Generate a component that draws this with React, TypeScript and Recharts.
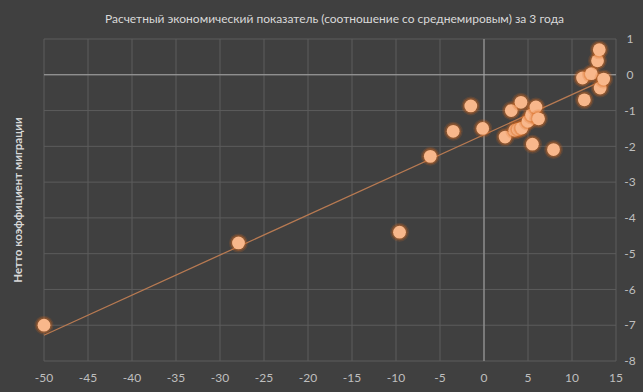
import { ScatterChart, Scatter, XAxis, YAxis, CartesianGrid, ReferenceLine } from 'recharts'

// economic indicator vs. net migration, one entry per country
const economicIndex = [
  -50, -27.9, -9.6, -6.1, -3.5, -1.5, -0.15, 2.4, 3.1, 3.5, 3.9, 4.2, 4.3, 5.0, 5.4, 5.5,
  5.9, 6.2, 7.9, 11.2, 11.4, 12.2, 12.9, 13.1, 13.2, 13.6,
]
const netMigration = [
  -7.0, -4.7, -4.4, -2.28, -1.58, -0.87, -1.5, -1.74, -1.0, -1.55, -1.52, -0.77, -1.49, -1.3,
  -1.12, -1.94, -0.9, -1.23, -2.09, -0.09, -0.7, 0.03, 0.39, 0.7, -0.37, -0.12,
]
// linear trend endpoints
const trendX = [-50, 13.6]
const trendY = [-7.28, -0.15]

const xTicks = [-50, -45, -40, -35, -30, -25, -20, -15, -10, -5, 0, 5, 10, 15]
const yTicks = [-8, -7, -6, -5, -4, -3, -2, -1, 0, 1]

const points = economicIndex.map((x, i) => ({ x, y: netMigration[i] }))
const trend = trendX.map((x, i) => ({ x, y: trendY[i] }))

const BG = '#404040'
const GRID = '#5c5c5c'
const TEXT = '#bfbfbf'
const FONT = 'Lato, "Liberation Sans", sans-serif'

function Dot(props: any) {
  const { cx, cy } = props
  if (cx == null || cy == null) return <g />
  return (
    <g>
      <circle cx={cx} cy={cy} r={9.5} fill="#d8691f" opacity={0.18} />
      <circle cx={cx} cy={cy} r={8} fill="#d8691f" opacity={0.35} />
      <circle cx={cx} cy={cy} r={6.4} fill="#f8b78b" />
    </g>
  )
}

function RightTick(props: any) {
  const { x, y, payload } = props
  return (
    <text x={x + 12} y={y} dy="0.35em" textAnchor="middle" fill={TEXT} fontSize={12} fontFamily={FONT}>
      {payload.value}
    </text>
  )
}

function SideTitle(props: any) {
  const vb = props.viewBox || {}
  const cx = 17
  const cy = (vb.y ?? 39) + (vb.height ?? 322) / 2
  return (
    <text
      x={cx}
      y={cy}
      transform={`rotate(-90 ${cx} ${cy})`}
      textAnchor="middle"
      dominantBaseline="central"
      fill="#d9d9d9"
      fontSize={11.5}
      fontWeight="bold"
      fontFamily={FONT}
    >
      Нетто коэффициент миграции
    </text>
  )
}

export default function App() {
  return (
    <div style={{ position: 'absolute', left: 0, top: 0, width: 643, height: 392, background: BG }}>
      <div
        style={{
          position: 'absolute',
          left: 13,
          top: 11,
          width: 643,
          textAlign: 'center',
          color: '#d9d9d9',
          fontSize: 12,
          fontFamily: FONT,
        }}
      >
        Расчетный экономический показатель (соотношение со среднемировым) за 3 года
      </div>
      <ScatterChart width={643} height={392} margin={{ top: 39, right: 0, bottom: 0, left: 0 }}>
        <CartesianGrid stroke={GRID} strokeWidth={1} />
        <XAxis
          type="number"
          dataKey="x"
          domain={[-50, 15]}
          ticks={xTicks}
          interval={0}
          height={31}
          tickLine={false}
          axisLine={false}
          tickSize={0}
          tickMargin={12}
          tick={{ fill: TEXT, fontSize: 12, fontFamily: FONT }}
        />
        <YAxis
          type="number"
          dataKey="y"
          orientation="right"
          domain={[-8, 1]}
          ticks={yTicks}
          interval={0}
          width={27}
          tickLine={false}
          axisLine={false}
          tickSize={0}
          tick={<RightTick />}
        />
        <YAxis
          yAxisId="left"
          type="number"
          orientation="left"
          domain={[-8, 1]}
          width={44}
          tick={false}
          tickLine={false}
          axisLine={false}
          label={<SideTitle />}
        />
        <ReferenceLine x={0} stroke="#a6a6a6" strokeWidth={1} />
        <ReferenceLine y={0} stroke="#a6a6a6" strokeWidth={1} />
        <Scatter
          data={trend}
          line={{ stroke: '#b87a52', strokeWidth: 1.3 }}
          shape={() => <g />}
          legendType="none"
          isAnimationActive={false}
        />
        <Scatter data={points} shape={<Dot />} isAnimationActive={false} />
      </ScatterChart>
    </div>
  )
}
